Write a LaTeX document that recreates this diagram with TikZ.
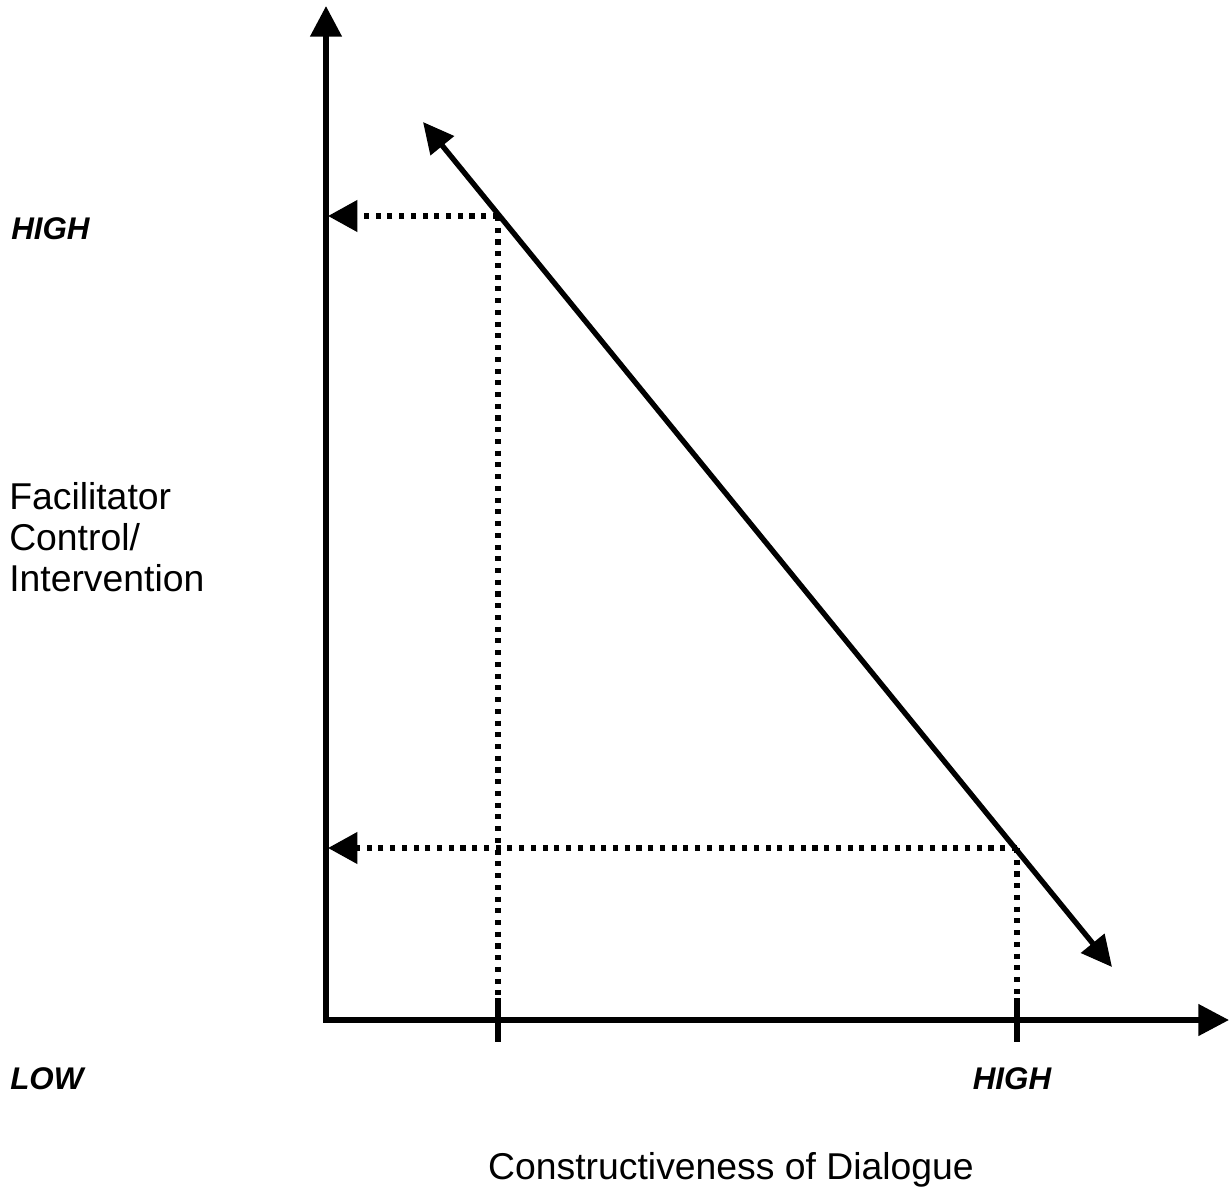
\documentclass[tikz,border=0pt]{standalone}
\usepackage{fontspec}
\setmainfont{Liberation Sans}
\usetikzlibrary{arrows.meta}
\tikzset{
  axis/.style={line width=4.2pt,-{Triangle[length=23pt,width=23pt]}},
  diag/.style={line width=4pt,{Triangle[length=23pt,width=22pt]}-{Triangle[length=23pt,width=22pt]}},
  dotline/.style={line width=4pt,dash pattern=on 3.8pt off 5pt},
  dotarrow/.style={dotline,-{Triangle[length=22pt,width=23pt]}},
  tick/.style={line width=3.8pt},
  lab/.style={font=\fontsize{28}{31}\selectfont,inner sep=0pt},
  blab/.style={font=\fontsize{23.5}{28}\selectfont\bfseries\itshape,inner sep=0pt},
}
\begin{document}
\begin{tikzpicture}[x=0.75pt,y=-0.75pt]
\useasboundingbox (0,0) rectangle (1230,1195);
\coordinate (O) at (326,1020);
\coordinate (ytop) at (326,6);
\coordinate (xend) at (1229,1020);
\coordinate (d1) at (423,122);
\coordinate (d2) at (1112,967);
\coordinate (p1) at (498,216);
\coordinate (p2) at (1017,848);
\coordinate (yh) at (328,216);
\coordinate (yl) at (328,848);
\coordinate (t1a) at (498,998);
\coordinate (t1b) at (498,1042);
\coordinate (t2a) at (1017,998);
\coordinate (t2b) at (1017,1042);
\draw[axis] (O) -- (ytop);
\draw[axis] ([xshift=-2]O) -- (xend);
\draw[diag] (d1) -- (d2);
\draw[dotarrow] (p1) -- (yh);
\draw[dotarrow] (p2) -- (yl);
\draw[dotline] (p1) -- (t1a);
\draw[dotline] (p2) -- (t2a);
\draw[tick] (t1a) -- (t1b);
\draw[tick] (t2a) -- (t2b);
\node[blab,anchor=west] (hy) at (11,229) {HIGH};
\node[blab,anchor=west] (lo) at (10,1079) {LOW};
\node[blab,anchor=center] (hx) at (1012,1079) {HIGH};
\node[lab,anchor=west,align=left] (ylab) at (9,537) {Facilitator\\Control/\\Intervention};
\node[lab,anchor=center] (xlab) at (731,1170) {Constructiveness of Dialogue};
\end{tikzpicture}
\end{document}
